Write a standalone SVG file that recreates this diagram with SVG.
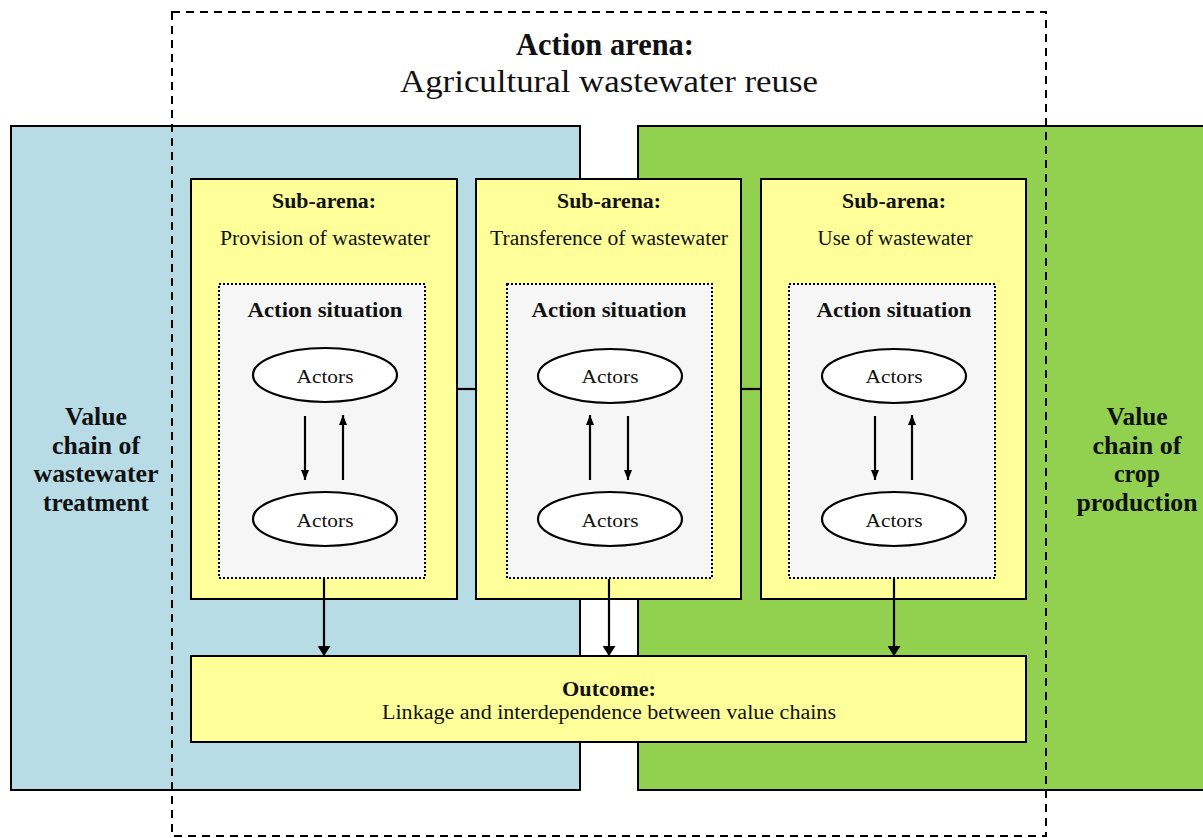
<svg xmlns="http://www.w3.org/2000/svg" width="1203" height="838" viewBox="0 0 1203 838">
<style>
text{font-family:"Liberation Serif","Times New Roman",serif;fill:#111;text-anchor:middle}
.b{font-weight:bold}
.box{stroke:#000;stroke-width:2}
.sub{fill:#ffff99;stroke:#000;stroke-width:2}
.sit{fill:#f6f6f6;stroke:#000;stroke-width:2;stroke-dasharray:2 2}
.ell{fill:#fff;stroke:#000;stroke-width:2.2}
.ln{stroke:#000;stroke-width:2.2;fill:none}
.vc{font-size:25px;font-weight:bold}
.sa{font-size:21px;font-weight:bold}
.sn{font-size:20px}
.as{font-size:22px;font-weight:bold}
.ac{font-size:19px}
</style>
<defs>
<marker id="ah" viewBox="0 0 10 8" refX="10" refY="4" markerWidth="10" markerHeight="8" markerUnits="userSpaceOnUse" orient="auto"><path d="M0,0 L10,4 L0,8 z" fill="#000"/></marker>
<marker id="ah2" viewBox="0 0 10 13" refX="10" refY="6.5" markerWidth="10" markerHeight="13" markerUnits="userSpaceOnUse" orient="auto"><path d="M0,0 L10,6.5 L0,13 z" fill="#000"/></marker>
</defs>
<rect width="1203" height="838" fill="#fff"/>
<g id="chain-wastewater">
<rect class="box" x="11" y="126" width="569" height="664" fill="#b7dce6"/>
<text class="vc" x="96" y="425" textLength="62" lengthAdjust="spacingAndGlyphs">Value</text>
<text class="vc" x="96" y="454" textLength="88" lengthAdjust="spacingAndGlyphs">chain of</text>
<text class="vc" x="96" y="482" textLength="125" lengthAdjust="spacingAndGlyphs">wastewater</text>
<text class="vc" x="96" y="511" textLength="106" lengthAdjust="spacingAndGlyphs">treatment</text>
</g>
<g id="chain-crop">
<rect class="box" x="638" y="126" width="575" height="664" fill="#92d050"/>
<text class="vc" x="1137" y="425" textLength="61" lengthAdjust="spacingAndGlyphs">Value</text>
<text class="vc" x="1137" y="454" textLength="89" lengthAdjust="spacingAndGlyphs">chain of</text>
<text class="vc" x="1137" y="482" textLength="46" lengthAdjust="spacingAndGlyphs">crop</text>
<text class="vc" x="1137" y="511" textLength="121" lengthAdjust="spacingAndGlyphs">production</text>
</g>
<g id="action-arena">
<rect x="172" y="12" width="874" height="824" fill="none" stroke="#000" stroke-width="2" stroke-dasharray="8 6"/>
<text class="b" font-size="31" x="605" y="55" textLength="178" lengthAdjust="spacingAndGlyphs">Action arena:</text>
<text font-size="32" x="609" y="92" textLength="418" lengthAdjust="spacingAndGlyphs">Agricultural wastewater reuse</text>
</g>
<g id="sub-provision">
<rect class="sub" x="191" y="179" width="266" height="420"/>
<text class="sa" x="324" y="208" textLength="104" lengthAdjust="spacingAndGlyphs">Sub-arena:</text>
<text class="sn" x="325" y="245" textLength="210" lengthAdjust="spacingAndGlyphs">Provision of wastewater</text>
<rect class="sit" x="219" y="284" width="206" height="294"/>
<text class="as" x="325" y="317" textLength="155" lengthAdjust="spacingAndGlyphs">Action situation</text>
<ellipse class="ell" cx="325" cy="375" rx="72" ry="27"/>
<text class="ac" x="325" y="383" textLength="57" lengthAdjust="spacingAndGlyphs">Actors</text>
<ellipse class="ell" cx="325" cy="519" rx="72" ry="27"/>
<text class="ac" x="325" y="527" textLength="57" lengthAdjust="spacingAndGlyphs">Actors</text>
</g>
<g id="sub-transference">
<rect class="sub" x="476" y="179" width="265" height="420"/>
<text class="sa" x="609" y="208" textLength="104" lengthAdjust="spacingAndGlyphs">Sub-arena:</text>
<text class="sn" x="609" y="245" textLength="238" lengthAdjust="spacingAndGlyphs">Transference of wastewater</text>
<rect class="sit" x="507" y="284" width="205" height="294"/>
<text class="as" x="609" y="317" textLength="155" lengthAdjust="spacingAndGlyphs">Action situation</text>
<ellipse class="ell" cx="610" cy="376" rx="72" ry="27"/>
<text class="ac" x="610" y="383" textLength="57" lengthAdjust="spacingAndGlyphs">Actors</text>
<ellipse class="ell" cx="610" cy="519" rx="72" ry="27"/>
<text class="ac" x="610" y="527" textLength="57" lengthAdjust="spacingAndGlyphs">Actors</text>
</g>
<g id="sub-use">
<rect class="sub" x="761" y="179" width="265" height="420"/>
<text class="sa" x="894" y="208" textLength="104" lengthAdjust="spacingAndGlyphs">Sub-arena:</text>
<text class="sn" x="895" y="245" textLength="155" lengthAdjust="spacingAndGlyphs">Use of wastewater</text>
<rect class="sit" x="789" y="284" width="206" height="294"/>
<text class="as" x="894" y="317" textLength="155" lengthAdjust="spacingAndGlyphs">Action situation</text>
<ellipse class="ell" cx="894" cy="376" rx="72" ry="27"/>
<text class="ac" x="894" y="383" textLength="57" lengthAdjust="spacingAndGlyphs">Actors</text>
<ellipse class="ell" cx="894" cy="519" rx="72" ry="27"/>
<text class="ac" x="894" y="527" textLength="57" lengthAdjust="spacingAndGlyphs">Actors</text>
</g>
<g id="outcome">
<rect class="sub" x="191" y="656" width="835" height="86"/>
<text class="b" font-size="21" x="609" y="696" textLength="94" lengthAdjust="spacingAndGlyphs">Outcome:</text>
<text font-size="20" x="609" y="719" textLength="454" lengthAdjust="spacingAndGlyphs">Linkage and interdependence between value chains</text>
</g>
<g id="connectors">
<line class="ln" x1="457" y1="389" x2="476" y2="389"/>
<line class="ln" x1="741" y1="389" x2="761" y2="389"/>
<line class="ln" x1="305" y1="416" x2="305" y2="480" marker-end="url(#ah)"/>
<line class="ln" x1="343" y1="480" x2="343" y2="415" marker-end="url(#ah)"/>
<line class="ln" x1="590" y1="480" x2="590" y2="415" marker-end="url(#ah)"/>
<line class="ln" x1="628" y1="416" x2="628" y2="480" marker-end="url(#ah)"/>
<line class="ln" x1="875" y1="416" x2="875" y2="480" marker-end="url(#ah)"/>
<line class="ln" x1="912" y1="480" x2="912" y2="415" marker-end="url(#ah)"/>
<line class="ln" x1="324" y1="579" x2="324" y2="656" marker-end="url(#ah2)"/>
<line class="ln" x1="609" y1="579" x2="609" y2="656" marker-end="url(#ah2)"/>
<line class="ln" x1="894" y1="579" x2="894" y2="656" marker-end="url(#ah2)"/>
</g>
</svg>
